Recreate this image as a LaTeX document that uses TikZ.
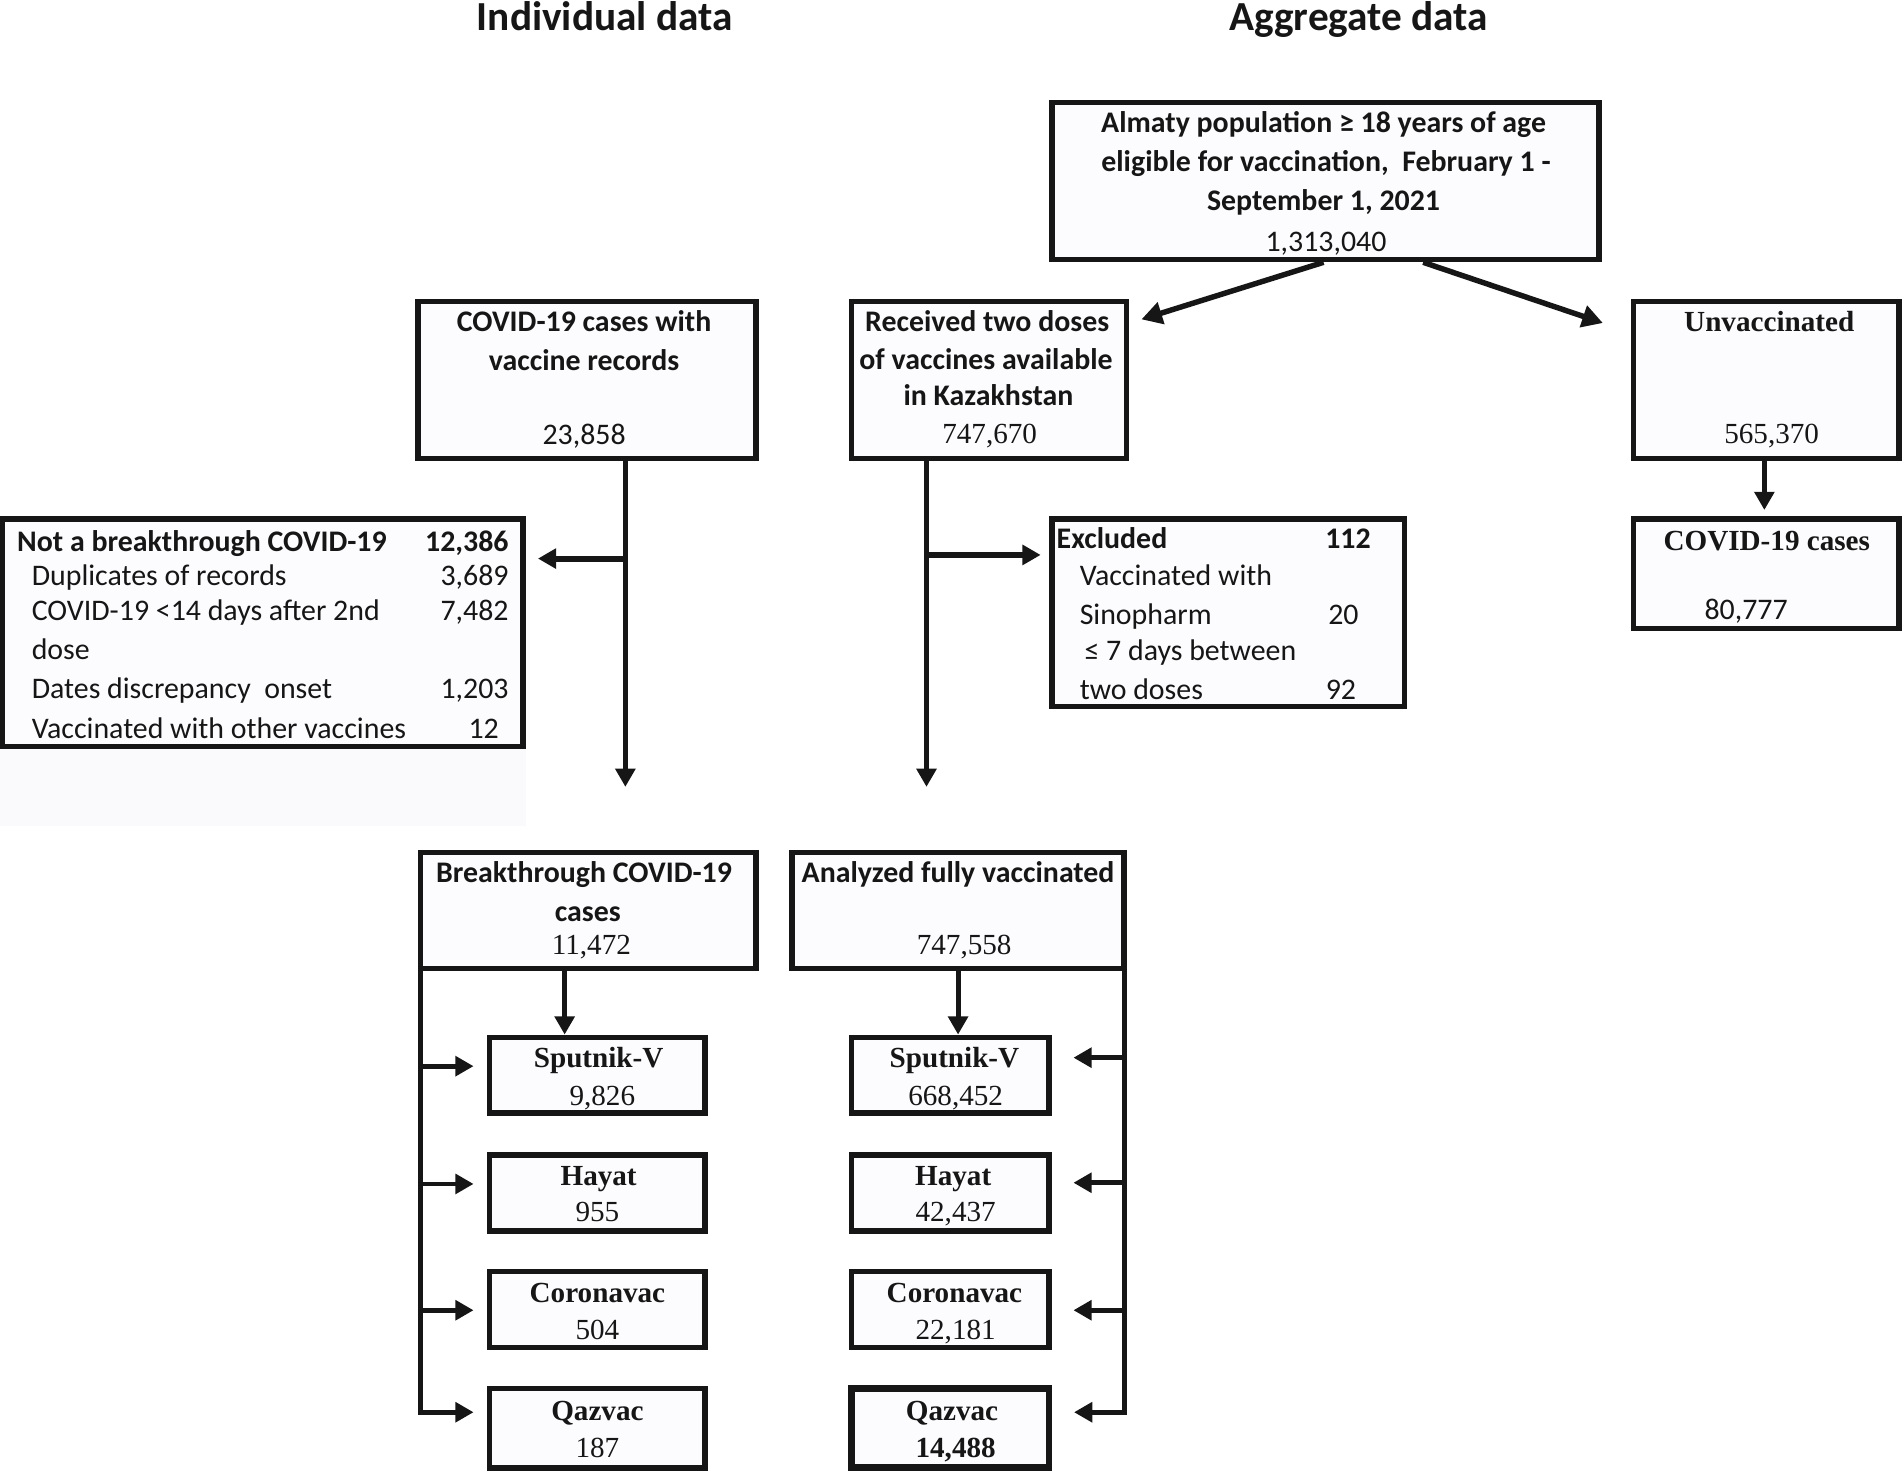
\documentclass[tikz,border=0pt]{standalone}
\usepackage{fontspec}
\setmainfont{Carlito}
\newfontfamily\tnrfam{Liberation Serif}
\newcommand\tnr{\tnrfam\fontsize{24}{29}\selectfont}
\usetikzlibrary{arrows.meta,calc}
\definecolor{boxfill}{RGB}{252,252,255}
\definecolor{ink}{RGB}{22,22,22}
\definecolor{faint}{RGB}{250,250,253}
\newcounter{tn}
\newcommand\mkbox[6][]{\node[box,#1,minimum width={#4pt-#2pt-4.5pt},minimum height={#5pt-#3pt-4.5pt}] (#6) at ({(#2+#4)/2},{(#3+#5)/2}) {};}
\newcommand\tx[4][]{\stepcounter{tn}\node[txt,#1] (t\arabic{tn}) at (#2,#3) {#4};}
\begin{document}
\begin{tikzpicture}[x=1pt,y=-1pt,
  font=\fontsize{24.6}{29}\selectfont,
  box/.style={draw=ink,line width=4.5pt,fill=boxfill,inner sep=0pt},
  txt/.style={inner sep=0pt,anchor=base,text=ink},
  arr/.style={draw=ink,line width=4pt,line join=miter,-{Triangle[length=15pt,width=16pt]}},
  arrB/.style={arr,line width=5pt},
  arrD/.style={arr,line width=4.5pt,-{Triangle[length=17pt,width=18pt]}},
  title/.style={txt,font=\fontsize{34}{40}\selectfont\bfseries}]
\useasboundingbox (0,0) rectangle (1568,1211);
\fill[faint] (0,617) rectangle (433,680);
% titles
\tx[title]{498}{25}{Individual data}
\tx[title]{1119}{25}{Aggregate data}
% boxes
\mkbox{864}{82}{1319}{216}{almaty}
\mkbox{342}{246}{625}{380}{cases}
\mkbox{699}{246}{930}{380}{recv}
\mkbox{1343}{246}{1566}{380}{unvac}
\mkbox{0}{425}{433}{617}{notbt}
\mkbox{864}{425}{1159}{584}{excl}
\mkbox{1343}{425}{1566}{520}{cc}
\mkbox{344}{700}{625}{800}{bt}
\mkbox{650}{700}{928}{800}{afv}
\mkbox{401}{852}{583}{919}{ls}
\mkbox{401}{949}{583}{1016}{lh}
\mkbox{401}{1045}{583}{1112}{lc}
\mkbox{401}{1141}{583}{1211}{lq}
\mkbox{699}{852}{866}{919}{rs}
\mkbox{699}{949}{866}{1016}{rh}
\mkbox{699}{1045}{866}{1112}{rc}
\mkbox[line width=5.5pt]{699}{1141}{866}{1211}{rq}
% Almaty text
\tx{1090}{109}{\bfseries Almaty population ≥ 18 years of age}
\tx{1092}{141}{\bfseries eligible for vaccination,\ \ February 1 -}
\tx{1090}{173}{\bfseries September 1, 2021}
\tx{1092}{207}{1,313,040}
% cases
\tx{481}{273}{\bfseries COVID-19 cases with}
\tx{481}{305}{\bfseries vaccine records}
\tx{481}{366}{23,858}
% received
\tx{813}{273}{\bfseries Received two doses}
\tx{812}{304}{\bfseries of vaccines available}
\tx{814}{334}{\bfseries in Kazakhstan}
\tx{815}{365}{\tnr 747,670}
% unvaccinated
\tx{1457}{273}{\tnr\bfseries Unvaccinated}
\tx{1459}{365}{\tnr 565,370}
% not a breakthrough
\tx[anchor=base west]{14}{454}{\bfseries Not a breakthrough COVID-19}
\tx[anchor=base east]{419}{454}{\bfseries 12,386}
\tx[anchor=base west]{26}{482}{Duplicates of records}
\tx[anchor=base east]{419}{482}{3,689}
\tx[anchor=base west]{26}{511}{COVID-19 <14 days after 2nd}
\tx[anchor=base east]{419}{511}{7,482}
\tx[anchor=base west]{26}{543}{dose}
\tx[anchor=base west]{26}{575}{Dates discrepancy\ \ onset}
\tx[anchor=base east]{419}{575}{1,203}
\tx[anchor=base west]{26}{608}{Vaccinated with other vaccines}
\tx[anchor=base east]{411}{608}{12}
% excluded
\tx[anchor=base west]{870}{452}{\bfseries Excluded}
\tx[anchor=base east]{1129}{452}{\bfseries 112}
\tx[anchor=base west]{889}{482}{Vaccinated with}
\tx[anchor=base west]{889}{514}{Sinopharm}
\tx[anchor=base east]{1119}{514}{20}
\tx[anchor=base west]{893}{544}{≤ 7 days between}
\tx[anchor=base west]{889}{576}{two doses}
\tx[anchor=base east]{1117}{576}{92}
% covid cases right
\tx{1455}{453}{\tnr\bfseries COVID-19 cases}
\tx{1438}{510}{80,777}
% breakthrough
\tx{481}{727}{\bfseries Breakthrough COVID-19}
\tx{484}{759}{\bfseries cases}
\tx{487}{786}{\tnr 11,472}
% analyzed
\tx{789}{727}{\bfseries Analyzed fully vaccinated}
\tx{794}{786}{\tnr 747,558}
% vaccine boxes left
\tx{493}{879}{\tnr\bfseries Sputnik-V}
\tx{496}{910}{\tnr 9,826}
\tx{493}{976}{\tnr\bfseries Hayat}
\tx{492}{1006}{\tnr 955}
\tx{492}{1073}{\tnr\bfseries Coronavac}
\tx{492}{1103}{\tnr 504}
\tx{492}{1170}{\tnr\bfseries Qazvac}
\tx{492}{1200}{\tnr 187}
% vaccine boxes right
\tx{786}{879}{\tnr\bfseries Sputnik-V}
\tx{787}{910}{\tnr 668,452}
\tx{785}{976}{\tnr\bfseries Hayat}
\tx{787}{1006}{\tnr 42,437}
\tx{786}{1073}{\tnr\bfseries Coronavac}
\tx{787}{1103}{\tnr 22,181}
\tx{784}{1170}{\tnr\bfseries Qazvac}
\tx{787}{1200}{\tnr\bfseries 14,488}
% connectors
\coordinate (pRecv) at (940,263);
\coordinate (pUnv) at (1320,266);
\draw[arrD] ([xshift=-1.5pt]almaty.south) -- (pRecv);
\draw[arrD] ([xshift=80.5pt]almaty.south) -- (pUnv);
\draw[arr] ([xshift=-1.5pt]unvac.south) -- ([xshift=-1.5pt,yshift=5pt]cc.north);
\coordinate (cDown) at (515,648);
\coordinate (cBr) at (515,460);
\draw[arr] (cases.south -| cDown) -- (cDown);
\draw[arrB] (cBr) -- ($(notbt.east |- cBr)+(10,0)$);
\coordinate (rDown) at (763,648);
\coordinate (rBr) at (763,457);
\draw[arr] (recv.south -| rDown) -- (rDown);
\draw[arrB] (rBr) -- ($(excl.west |- rBr)+(-7,0)$);
\coordinate (btd) at (465,800);
\draw[arr] (btd) -- (btd |- ls.north);
\draw[arr] (afv.south) -- (afv.south |- rs.north);
% left rail
\coordinate (railL) at (346,1163);
\draw[arr] (346,798) -- (railL) -- ($(lq.west |- railL)+(-11,0)$);
\foreach \n/\yy in {ls/878,lh/975,lc/1079}
  \draw[arr] (346,\yy) -- ($(\n.west |- 0,\yy)+(-11,0)$);
% right rail
\coordinate (railR) at (926,1163);
\draw[arr] (926,798) -- (railR) -- ($(rq.east |- railR)+(18,0)$);
\foreach \n/\yy in {rs/871,rh/974,rc/1079}
  \draw[arr] (926,\yy) -- ($(\n.east |- 0,\yy)+(18,0)$);
\end{tikzpicture}
\end{document}
